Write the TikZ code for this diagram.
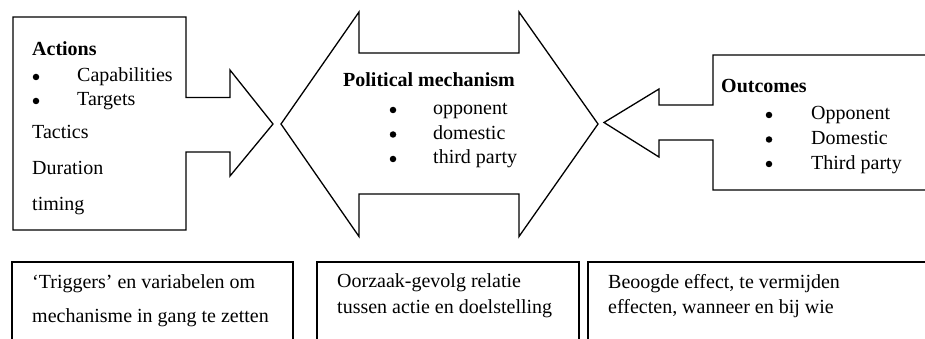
\documentclass[tikz,border=0pt]{standalone}
\usepackage{fontspec}
\setmainfont{Liberation Serif}
\begin{document}
\begin{tikzpicture}[x=1pt, y=-1pt,
  outline/.style={draw=black, line width=1.3pt, line join=miter},
  txt/.style={anchor=base west, inner sep=0pt, font=\fontsize{20}{24}\selectfont},
  hd/.style={anchor=base west, inner sep=0pt, font=\fontsize{20}{24}\selectfont\bfseries},
  dot/.style={circle, fill=black, inner sep=0pt, minimum size=6.5pt}]
  \useasboundingbox (0,0) rectangle (925,339);
  \clip (0,0) rectangle (925,339);

  % Actions: box with an arrow pointing right
  \draw[outline] (13,17) -- (186,17) -- (186,97.5) -- (230,97.5) -- (230,70)
    -- (273,124) -- (230,176) -- (230,152) -- (186,152) -- (186,230)
    -- (13,230) -- cycle;

  % Political mechanism: double-headed arrow
  \draw[outline] (281,124) -- (359,12) -- (359,53) -- (519,53) -- (519,12)
    -- (598,124) -- (519,236.5) -- (519,194) -- (359,194) -- (359,236.5) -- cycle;

  % Outcomes: box with an arrow pointing left
  \draw[outline] (604,122.5) -- (659,89) -- (659,105) -- (713,105) -- (713,55)
    -- (940,55) -- (940,190) -- (713,190) -- (713,140) -- (659,140)
    -- (659,157) -- cycle;

  % Explanation boxes along the bottom
  \draw[outline] (12,262) rectangle (293,350);
  \draw[outline] (317,262) rectangle (579,350);
  \draw[outline] (588,262) rectangle (940,350);

  % Actions text
  \node[hd]  (act)  at (32,56)  {Actions};
  \node[dot] (actb1) at (36,77) {};
  \node[txt] (cap)  at (77,82)  {Capabilities};
  \node[dot] (actb2) at (36,101) {};
  \node[txt] (tar)  at (77,106) {Targets};
  \node[txt] (tac)  at (32,139) {Tactics};
  \node[txt] (dur)  at (32,175) {Duration};
  \node[txt] (tim)  at (32,210) {timing};

  % Political mechanism text
  \node[hd]  (pol)  at (343,87)  {Political mechanism};
  \node[dot] (polb1) at (393,110) {};
  \node[txt] (opp)  at (433,115) {opponent};
  \node[dot] (polb2) at (393,134.5) {};
  \node[txt] (dom)  at (433,139.5) {domestic};
  \node[dot] (polb3) at (393,159) {};
  \node[txt] (thp)  at (433,164) {third party};

  % Outcomes text
  \node[hd]  (out)  at (721,93)  {Outcomes};
  \node[dot] (outb1) at (769,115) {};
  \node[txt] (oopp) at (811,120) {Opponent};
  \node[dot] (outb2) at (769,139.5) {};
  \node[txt] (odom) at (811,144.5) {Domestic};
  \node[dot] (outb3) at (769,164) {};
  \node[txt] (othp) at (811,169) {Third party};

  % Bottom explanations
  \node[txt] (e1a) at (32,288)  {‘Triggers’ en variabelen om};
  \node[txt] (e1b) at (32,322)  {mechanisme in gang te zetten};
  \node[txt] (e2a) at (337,287.5) {Oorzaak-gevolg relatie};
  \node[txt] (e2b) at (337,313) {tussen actie en doelstelling};
  \node[txt] (e3a) at (608,288) {Beoogde effect, te vermijden};
  \node[txt] (e3b) at (608,313) {effecten, wanneer en bij wie};
\end{tikzpicture}
\end{document}
